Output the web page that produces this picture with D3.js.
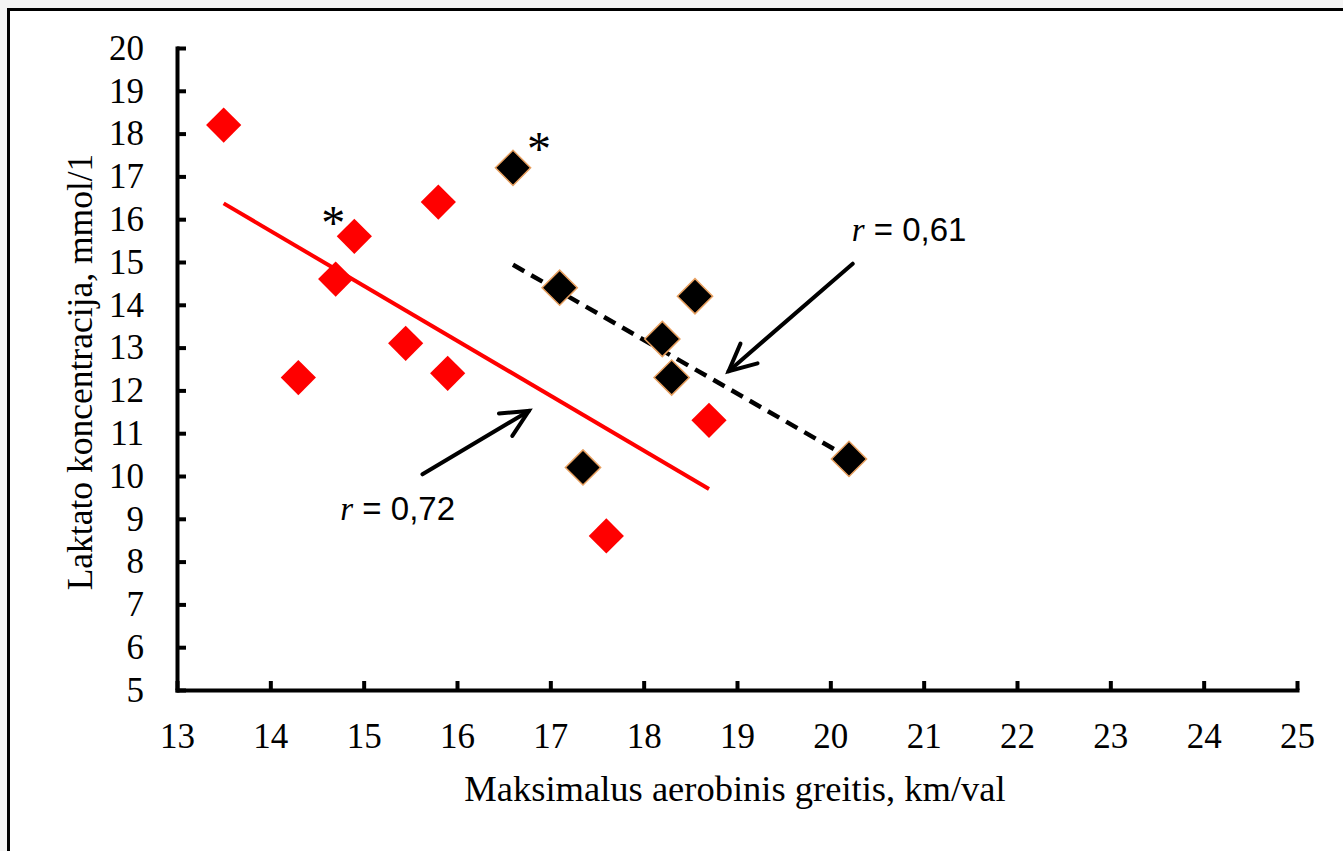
<!DOCTYPE html>
<html>
<head>
<meta charset="utf-8">
<script src="https://cdn.jsdelivr.net/npm/d3@7"></script>
<style>
  html, body { margin: 0; padding: 0; background: #f4f4f4; overflow: hidden; }
  svg { display: block; }
  text { font-family: "Liberation Serif", "Times New Roman", serif; fill: #000; }
</style>
</head>
<body>
<svg id="chart" width="1343" height="851"></svg>
<script>
// ---- data ----
const redX = [13.5, 14.3, 14.7, 14.9, 15.45, 15.8, 15.9, 17.6, 18.7];
const redY = [18.2, 12.3, 14.6, 15.6, 13.1, 16.4, 12.4, 8.6, 11.3];
const blackX = [16.6, 17.1, 17.35, 18.2, 18.3, 18.55, 20.2];
const blackY = [17.2, 14.4, 10.2, 13.2, 12.3, 14.2, 10.4];
const xTicks = [13, 14, 15, 16, 17, 18, 19, 20, 21, 22, 23, 24, 25];
const yTicks = [5, 6, 7, 8, 9, 10, 11, 12, 13, 14, 15, 16, 17, 18, 19, 20];
const xTitle = "Maksimalus aerobinis greitis, km/val";
const yTitle = "Laktato koncentracija, mmol/1";
const redLabel = "0,72";
const blackLabel = "0,61";

// ---- layout ----
const svg = d3.select("#chart");
const pLeft = 177, pRight = 1297, pTop = 48, pBottom = 690;
const x = d3.scaleLinear().domain([13, 25]).range([pLeft, pRight]);
const y = d3.scaleLinear().domain([5, 20]).range([pBottom, pTop]);

// frame
svg.append("rect").attr("x", 8.5).attr("y", 9.5).attr("width", 1400).attr("height", 900)
  .attr("fill", "#fff").attr("stroke", "#000").attr("stroke-width", 3);

// axes
const xAxis = d3.axisBottom(x).tickValues(xTicks).tickSizeInner(-9).tickSizeOuter(0).tickPadding(33)
  .tickFormat(d3.format("d"));
const yAxis = d3.axisLeft(y).tickValues(yTicks).tickSizeInner(-9).tickSizeOuter(0).tickPadding(33)
  .tickFormat(d3.format("d"));

const gx = svg.append("g").attr("transform", `translate(0,${pBottom})`).call(xAxis);
const gy = svg.append("g").attr("transform", `translate(${pLeft},0)`).call(yAxis);
[gx, gy].forEach(g => {
  g.select(".domain").attr("stroke", "#000").attr("stroke-width", 4).attr("stroke-linecap", "square");
  g.selectAll(".tick line").attr("stroke", "#000").attr("stroke-width", 4);
  g.selectAll(".tick text").attr("font-family", "Liberation Serif").attr("font-size", 35).attr("fill", "#000");
});

// titles
svg.append("text").attr("x", 735).attr("y", 801).attr("text-anchor", "middle")
  .attr("font-size", 36.5).text(xTitle);
svg.append("text").attr("transform", `translate(92,372) rotate(-90)`).attr("text-anchor", "middle")
  .attr("font-size", 35.5).text(yTitle);

// regression helper (trendline computed from the series)
function regress(xs, ys) {
  const mx = d3.mean(xs), my = d3.mean(ys);
  const sxy = d3.sum(xs, (v, i) => (v - mx) * (ys[i] - my));
  const sxx = d3.sum(xs, v => (v - mx) * (v - mx));
  const b = sxy / sxx, a = my - b * mx;
  const x0 = d3.min(xs), x1 = d3.max(xs);
  return [[x0, a + b * x0], [x1, a + b * x1]];
}
const line = d3.line().x(d => x(d[0])).y(d => y(d[1]));

const redTrend = regress(redX, redY);
const blackTrend = regress(blackX, blackY);

svg.append("path").attr("d", line(redTrend)).attr("stroke", "#ff0000").attr("stroke-width", 4)
  .attr("fill", "none");
svg.append("path").attr("d", line(blackTrend)).attr("stroke", "#000").attr("stroke-width", 4.5)
  .attr("stroke-dasharray", "13,8").attr("fill", "none");

// markers
const diamond = d3.symbol().type(d3.symbolSquare).size(620);
svg.append("g").selectAll("path").data(redX.map((v, i) => [v, redY[i]])).join("path")
  .attr("d", diamond)
  .attr("transform", d => `translate(${x(d[0])},${y(d[1])}) rotate(45)`)
  .attr("fill", "#ff0000");
svg.append("g").selectAll("path").data(blackX.map((v, i) => [v, blackY[i]])).join("path")
  .attr("d", diamond)
  .attr("transform", d => `translate(${x(d[0])},${y(d[1])}) rotate(45)`)
  .attr("fill", "#000").attr("stroke", "#e8a060").attr("stroke-width", 1.5);

// asterisks next to flagged points
svg.append("text").attr("x", x(redX[3]) - 21).attr("y", y(redY[3]) + 3).attr("text-anchor", "middle")
  .attr("font-size", 48).text("*");
svg.append("text").attr("x", x(blackX[0]) + 26).attr("y", y(blackY[0]) - 3).attr("text-anchor", "middle")
  .attr("font-size", 48).text("*");

// arrows
function arrow(x0, y0, x1, y1) {
  const g = svg.append("g").attr("stroke", "#000").attr("stroke-width", 4).attr("fill", "none")
    .attr("stroke-linecap", "round");
  g.append("line").attr("x1", x(x0)).attr("y1", y(y0)).attr("x2", x(x1)).attr("y2", y(y1));
  const ang = Math.atan2(y(y1) - y(y0), x(x1) - x(x0));
  const L = 30, spread = 0.45;
  const tx = x(x1), ty = y(y1);
  g.append("path").attr("d",
    `M${tx - L * Math.cos(ang - spread)},${ty - L * Math.sin(ang - spread)}L${tx},${ty}L${tx - L * Math.cos(ang + spread)},${ty - L * Math.sin(ang + spread)}`);
}
arrow(20.24, 14.96, 18.91, 12.45);
arrow(15.63, 10.04, 16.77, 11.52);

// r labels
function rLabel(xv, yv, val) {
  const t = svg.append("text").attr("x", x(xv)).attr("y", y(yv)).attr("font-size", 33);
  t.append("tspan").attr("font-style", "italic").attr("font-family", "Liberation Serif").text("r");
  t.append("tspan").attr("font-family", "Liberation Sans").text(" = " + val);
}
rLabel(20.23, 15.48, blackLabel);
rLabel(14.75, 8.98, redLabel);
</script>
</body>
</html>
